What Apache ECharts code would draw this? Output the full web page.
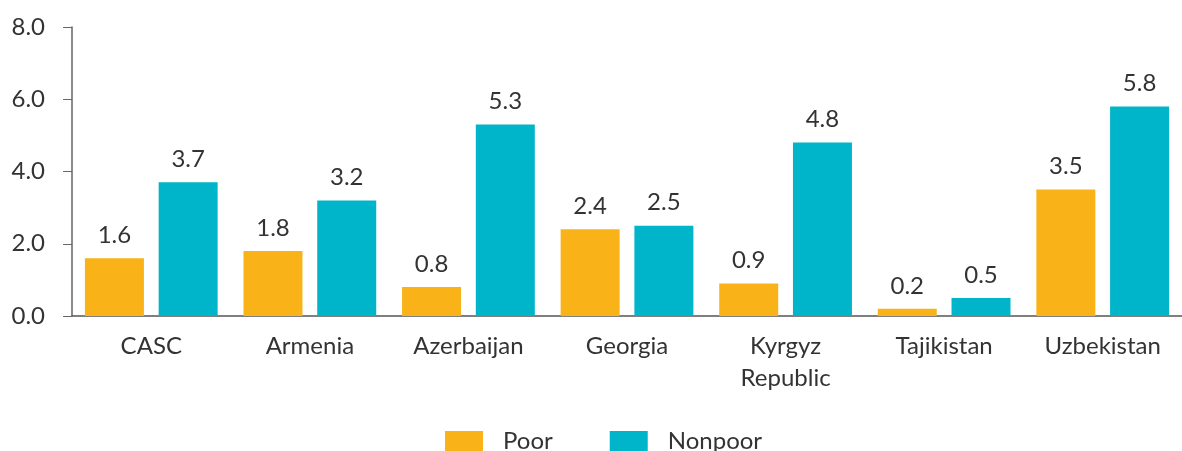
<!DOCTYPE html>
<html>
  <head>
    <meta charset="utf-8" />
    <title>Poor vs Nonpoor</title>
    <script src="https://cdn.jsdelivr.net/npm/echarts@6/dist/echarts.min.js"></script>
    <style>
      * {
        padding: 0;
        margin: 0;
      }
      #chart-panel {
        width: 1182px;
        height: 451px;
      }
    </style>
  </head>
  <body>
    <div id="chart-panel"></div>
    <script type="text/javascript">
      var categories = [
        "CASC",
        "Armenia",
        "Azerbaijan",
        "Georgia",
        "Kyrgyz\nRepublic",
        "Tajikistan",
        "Uzbekistan",
      ];
      var poor = [1.6, 1.8, 0.8, 2.4, 0.9, 0.2, 3.5];
      var nonpoor = [3.7, 3.2, 5.3, 2.5, 4.8, 0.5, 5.8];

      var textColor = "#333";
      var fontFamily = "Lato";

      var myChart = echarts.init(document.getElementById("chart-panel"));

      var labelStyle = {
        show: true,
        position: "top",
        distance: 11,
        color: textColor,
        fontSize: 24,
        fontFamily: fontFamily,
        formatter: function (p) {
          return p.value.toFixed(1);
        },
      };

      var option = {
        animation: false,
        grid: {
          left: 72,
          right: -10,
          top: 27,
          bottom: 135,
        },
        legend: {
          bottom: -7,
          left: 440,
          itemWidth: 38,
          itemHeight: 20,
          itemGap: 57,
          icon: "rect",
          textStyle: {
            color: textColor,
            fontSize: 24,
            fontFamily: fontFamily,
            padding: [0, 0, 0, 15],
          },
          data: ["Poor", "Nonpoor"],
        },
        xAxis: {
          type: "category",
          data: categories,
          axisLine: { lineStyle: { color: "#555", width: 1.5 } },
          axisTick: { inside: true, length: 7, lineStyle: { color: "#555" } },
          axisLabel: {
            color: textColor,
            fontSize: 24,
            fontFamily: fontFamily,
            margin: 14,
            lineHeight: 32,
          },
        },
        yAxis: {
          type: "value",
          min: 0,
          max: 8,
          interval: 2,
          splitLine: { show: false },
          axisLine: { show: true, lineStyle: { color: "#666", width: 1.5 } },
          axisTick: { show: true, length: 9, lineStyle: { color: "#666" } },
          axisLabel: {
            color: textColor,
            fontSize: 24,
            fontFamily: fontFamily,
            margin: 27,
            formatter: function (v) {
              return v.toFixed(1);
            },
          },
        },
        series: [
          {
            name: "Poor",
            type: "bar",
            data: poor,
            barWidth: 59,
            barGap: "25%",
            itemStyle: { color: "#F9B319" },
            label: labelStyle,
          },
          {
            name: "Nonpoor",
            type: "bar",
            data: nonpoor,
            barWidth: 59,
            itemStyle: { color: "#00B5C9" },
            label: labelStyle,
          },
        ],
      };

      myChart.setOption(option);
    </script>
  </body>
</html>
